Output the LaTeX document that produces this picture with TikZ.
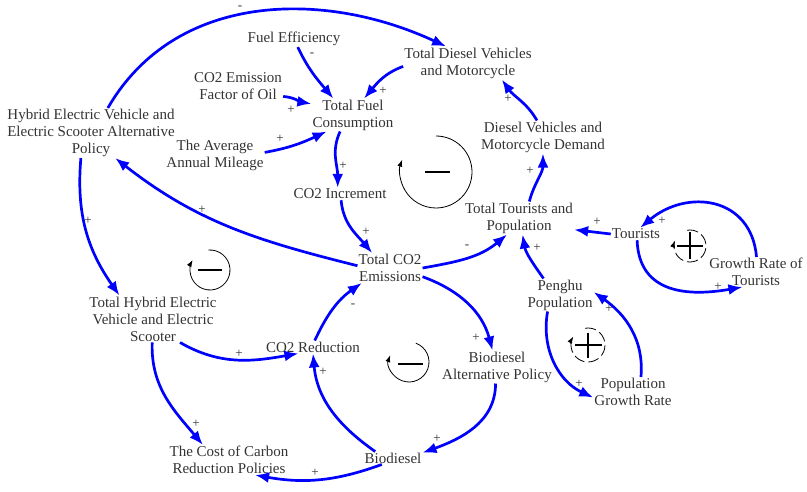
\documentclass[tikz,border=0pt]{standalone}
\usepackage{fontspec}
\setmainfont{Liberation Serif}
\usetikzlibrary{arrows.meta}
\tikzset{
  var/.style={align=center, inner sep=1pt, text=black!80, font=\fontsize{15}{17}\selectfont},
  link/.style={blue, line width=2.7pt, -{Latex[length=14pt,width=11pt]}},
  sgn/.style={inner sep=0pt, text=black!80, font=\fontsize{13}{14}\selectfont},
  loopline/.style={black, line width=0.8pt, -{Latex[length=7pt,width=5pt]}},
  bar/.style={black, line width=1.4pt},
}
\begin{document}
\begin{tikzpicture}[x=1pt, y=-1pt]
    \useasboundingbox (0,0) rectangle (807,492);
    % Variables
    \node[var] (hybrid)   at (91,133)  {Hybrid Electric Vehicle and\\Electric Scooter Alternative\\Policy};
    \node[var] (fuel)     at (294,39)  {Fuel Efficiency};
    \node[var] (factor)   at (238,86)  {CO2 Emission\\Factor of Oil};
    \node[var] (tfc)      at (353,115) {Total Fuel\\Consumption};
    \node[var] (mileage)  at (215,155) {The Average\\Annual Mileage};
    \node[var] (diesel)   at (468,63)  {Total Diesel Vehicles\\and Motorcycle};
    \node[var] (demand)   at (543,137) {Diesel Vehicles and\\Motorcycle Demand};
    \node[var] (incr)     at (340,194) {CO2 Increment};
    \node[var] (totco2)   at (390,268) {Total CO2\\Emissions};
    \node[var] (tourpop)  at (519,218) {Total Tourists and\\Population};
    \node[var] (tourists) at (636,234) {Tourists};
    \node[var] (growth)   at (756,272) {Growth Rate of\\Tourists};
    \node[var] (penghu)   at (560,295) {Penghu\\Population};
    \node[var] (popgr)    at (633,392) {Population\\Growth Rate};
    \node[var] (biopol)   at (497,367) {Biodiesel\\Alternative Policy};
    \node[var] (bio)      at (393,458) {Biodiesel};
    \node[var] (reduc)    at (313,347) {CO2 Reduction};
    \node[var] (hybtot)   at (153,319) {Total Hybrid Electric\\Vehicle and Electric\\Scooter};
    \node[var] (cost)     at (229,460) {The Cost of Carbon\\Reduction Policies};

    % Flechas causales
    \draw[link] (hybrid.56) to[out=60,in=155] (diesel.143);
    \draw[link] (fuel.-65) to[out=-65,in=130] (tfc.140);
    \draw[link] (factor.-13) to[out=-5,in=170] (tfc.165);
    \draw[link] (diesel.183) to[out=200,in=50] (tfc.56);
    \draw[link] (mileage.3) to[out=10,in=205] (tfc.212);
    \draw[link] (tfc.-128) to[out=-115,in=90] (incr.110);
    \draw[link] (incr.-80) to[out=-85,in=130] (totco2.140);
    \draw[link] (totco2.176) to[out=166,in=-38] (hybrid.-46);
    \draw[link] (hybrid.-112) to[out=-95,in=125] (hybtot.145);
    \draw[link] (hybtot.-41) to[out=-30,in=190] (reduc.204);
    \draw[link] (hybtot.-92) to[out=-92,in=130] (cost.150);
    \draw[link] (reduc.75) to[out=65,in=215] (totco2.208);
    \draw[link] (bio.160) to[out=145,in=-85] (reduc.-90);
    \draw[link] (bio.210) to[out=200,in=-10] (cost.-30);
    \draw[link] (totco2.-15) to[out=-20,in=105] (biopol.105);
    \draw[link] (biopol.-95) to[out=-90,in=20] (bio.10);
    \draw[link] (totco2.0) to[out=10,in=220] (tourpop.234);
    \draw[link] (tourpop.58) to[out=75,in=-90] (demand.-90);
    \draw[link] (demand.110) to[out=120,in=-55] (diesel.-26);
    \draw[link] (tourists.180) -- (tourpop.-12);
    \draw[link] (penghu.135) to[out=125,in=-80] (tourpop.-78);
    \draw[link] (tourists.-80) to[out=-88,in=190,looseness=1.2] (growth.228);
    \draw[link] (growth.88) to[out=95,in=40,looseness=1.3] (tourists.56);
    \draw[link] (penghu.233) to[out=-100,in=155] (popgr.188);
    \draw[link] (popgr.62) to[out=85,in=-35] (penghu.5);

    % Polaridades
    \foreach \sx/\sy/\s [count=\i] in {240/8/-, 312/55/-, 291/110/+, 383/91/+, 280/139/+,
        343/166/+, 366/232/+, 202/210/+, 88/221/+, 239/354/+, 196/424/+, 353/306/-,
        323/372/+, 315/473/+, 476/338/+, 437/439/+, 467/247/-, 530/171/+, 508/99/+,
        597/222/+, 537/248/+, 718/287/+, 662/221/+, 579/384/+, 609/309/+}
        \node[sgn] (s\i) at (\sx,\sy) {\s};

    % Bucles
    \coordinate (b1) at (436,172);
    \coordinate (b2) at (210,270);
    \coordinate (b3) at (409,362);
    \coordinate (r1) at (588,345);
    \coordinate (r2) at (690,246);
    \draw[loopline] (b1) ++(90:36pt) arc[start angle=90, end angle=-200, radius=36pt];
    \draw[bar] ([xshift=-11pt]b1) -- ([xshift=14pt]b1);
    \draw[loopline] (b2) ++(95:20pt) arc[start angle=95, end angle=-210, radius=20pt];
    \draw[bar] ([xshift=-12pt]b2) -- ([xshift=12pt]b2);
    \draw[loopline] (b3) ++(70:20pt) arc[start angle=70, end angle=-200, radius=20pt];
    \draw[bar] ([xshift=-11pt,yshift=-2pt]b3) -- ([xshift=14pt,yshift=-2pt]b3);
    \draw[loopline, dash pattern=on 11pt off 4pt] (r1) ++(100:17pt) arc[start angle=100, end angle=-210, radius=17pt];
    \draw[bar] ([xshift=-13pt]r1) -- ([xshift=14pt]r1);
    \draw[bar] ([yshift=-13pt]r1) -- ([yshift=12pt]r1);
    \draw[loopline, dash pattern=on 11pt off 4pt] (r2) ++(100:16pt) arc[start angle=100, end angle=-200, radius=16pt];
    \draw[bar] ([xshift=-13pt]r2) -- ([xshift=13pt]r2);
    \draw[bar] ([yshift=-13pt]r2) -- ([yshift=14pt]r2);
\end{tikzpicture}
\end{document}
